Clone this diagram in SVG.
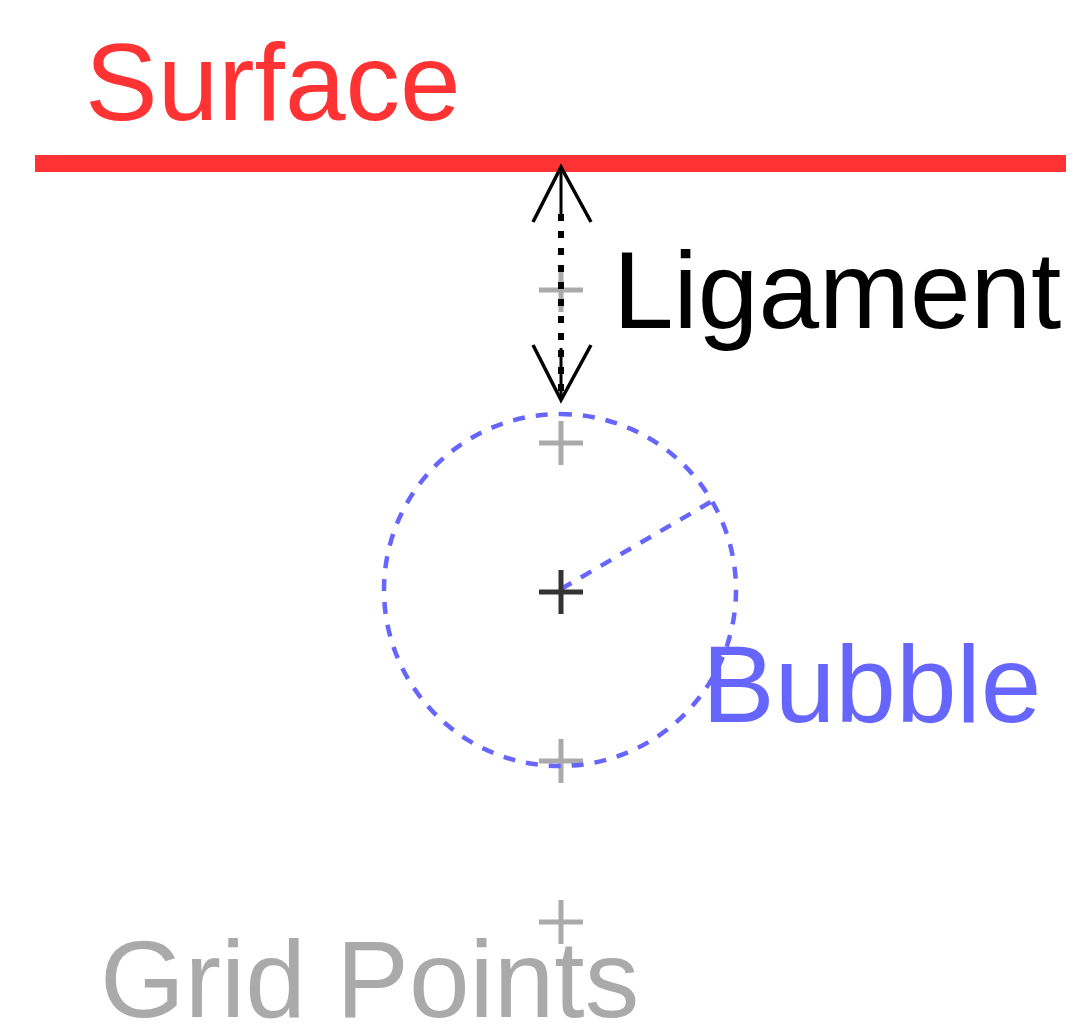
<svg xmlns="http://www.w3.org/2000/svg" width="1078" height="1033" viewBox="0 0 1078 1033">
<style>
.lbl{font-family:"Liberation Sans",Arial,sans-serif;font-size:109px}
.grid{stroke:#aaaaaa;stroke-width:5;fill:none}
.bub{stroke:#6666ff;stroke-width:4.5;fill:none;stroke-dasharray:12 11}
</style>
<rect width="1078" height="1033" fill="#ffffff"/>
<g id="surface">
<line x1="35" y1="163.5" x2="1066" y2="163.5" stroke="#ff3333" stroke-width="17"/>
<text class="lbl" x="85" y="120" fill="#ff3333">Surface</text>
</g>
<g id="grid-points">
<path class="grid" d="M539 290h44M561 268v44M539 443h44M561 421v44M539 761h44M561 739v44M539 922h44M561 900v44"/>
<text class="lbl" x="100" y="1017" fill="#aaaaaa">Grid Points</text>
</g>
<g id="bubble">
<path class="bub" d="M560 414a176 176 0 1 1 0 352a176 176 0 1 1 0-352z"/>
<line class="bub" x1="561" y1="589" x2="714" y2="500"/>
<path d="M539 592h44M561 570v44" stroke="#333333" stroke-width="5" fill="none"/>
<text class="lbl" x="702" y="722" fill="#6666ff">Bubble</text>
</g>
<g id="connectors">
<line x1="561" y1="214" x2="561" y2="396" stroke="#000" stroke-width="6" stroke-dasharray="7 10"/>
<line x1="561" y1="167" x2="561" y2="218" stroke="#000" stroke-width="3"/>
<line x1="561" y1="348" x2="561" y2="400" stroke="#000" stroke-width="3"/>
<path d="M533 222L561 167L591 222M533 345L561 400L591 345" stroke="#000" stroke-width="3.5" fill="none"/>
</g>
<g id="ligament">
<text class="lbl" x="613" y="328" fill="#000000">Ligament</text>
</g>
</svg>
